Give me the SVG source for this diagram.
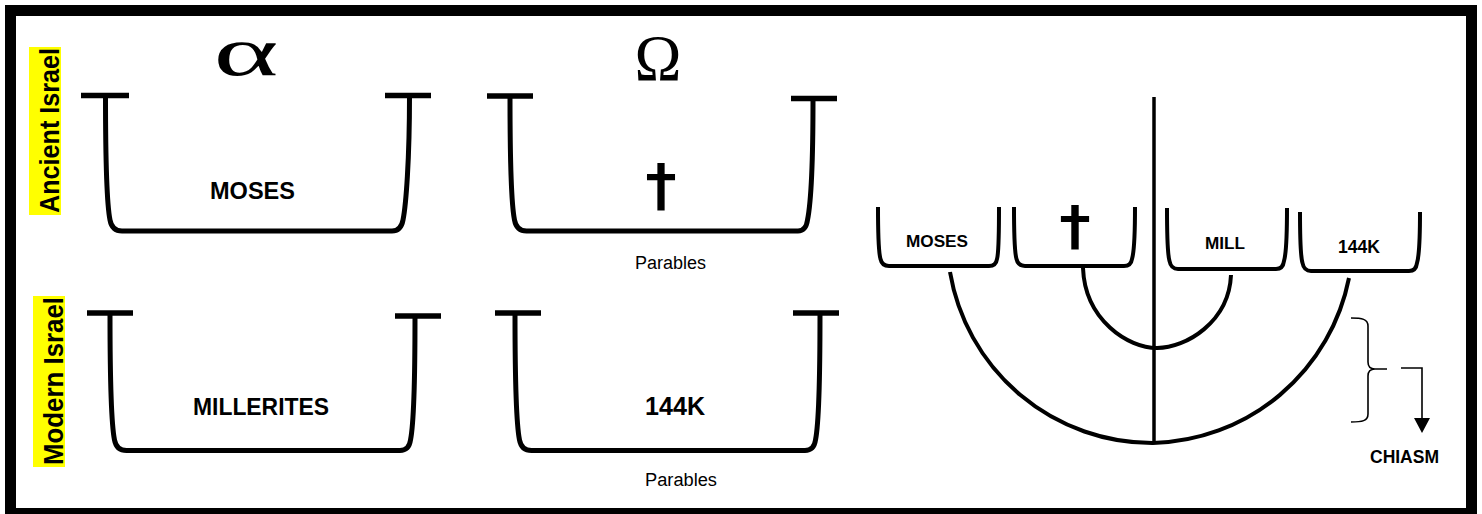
<svg xmlns="http://www.w3.org/2000/svg" width="1482" height="514" viewBox="0 0 1482 514">
  <style>
    .bowl { fill: none; stroke: #000; stroke-width: 5; stroke-linejoin: round; stroke-linecap: butt; }
    .lip { stroke: #000; stroke-width: 5.5; }
    .cup { fill: none; stroke: #000; stroke-width: 4; stroke-linejoin: round; }
    .arc { fill: none; stroke: #000; stroke-width: 4; }
    .thin { fill: none; stroke: #000; stroke-width: 1.6; }
    .lbl { font-family: "Liberation Sans", Arial, sans-serif; font-weight: bold; fill: #000; text-anchor: middle; }
    .cross { font-family: "DejaVu Sans", "Liberation Sans", sans-serif; fill: #000; stroke: #000; stroke-width: 2.2; text-anchor: middle; }
    .reg { font-family: "Liberation Sans", Arial, sans-serif; fill: #000; text-anchor: middle; }
    .greek { font-family: "Liberation Serif", "Times New Roman", serif; fill: #000; text-anchor: middle; }
    .side { font-family: "Liberation Sans", Arial, sans-serif; font-weight: bold; font-size: 28px; fill: #000; }
  </style>
  <defs>
    <marker id="head" viewBox="0 0 15 16" refX="0" refY="8" markerWidth="15" markerHeight="16" markerUnits="userSpaceOnUse" orient="auto">
      <path d="M0,0 L15,8 L0,16 Z" fill="#000"/>
    </marker>
  </defs>

  <rect width="1482" height="514" fill="#fff"/>

  <!-- outer frame -->
  <rect x="10.5" y="10.5" width="1461" height="503" fill="none" stroke="#000" stroke-width="11"/>

  <!-- row labels -->
  <g id="label-ancient">
    <rect x="29" y="47" width="32" height="168" fill="#ffff00"/>
    <text class="side" transform="translate(59,213) rotate(-90)" textLength="165" lengthAdjust="spacingAndGlyphs">Ancient Israel</text>
  </g>
  <g id="label-modern">
    <rect x="33" y="296" width="32" height="171" fill="#ffff00"/>
    <text class="side" transform="translate(63,465) rotate(-90)" textLength="168" lengthAdjust="spacingAndGlyphs">Modern Israel</text>
  </g>

  <!-- alpha / omega headings -->
  <g id="alpha">
    <text class="greek" x="246" y="75" font-size="70" textLength="65" lengthAdjust="spacingAndGlyphs">α</text>
  </g>
  <g id="omega">
    <text class="greek" x="658" y="80" font-size="66" textLength="47" lengthAdjust="spacingAndGlyphs">Ω</text>
  </g>

  <!-- large vessels -->
  <g id="vessel-moses">
    <line class="lip" x1="81" y1="95.5" x2="129" y2="95.5"/>
    <line class="lip" x1="385" y1="95.5" x2="431" y2="95.5"/>
    <path class="bowl" d="M105.5,96 C105.5,160 107,205 110,220 Q112,231 122,231 L392,231 Q401,231 403,220 C406,205 409.5,160 409.5,96"/>
    <text class="lbl" x="252.5" y="199" font-size="23.5" textLength="85" lengthAdjust="spacingAndGlyphs">MOSES</text>
  </g>

  <g id="vessel-cross">
    <line class="lip" x1="487" y1="96" x2="533" y2="96"/>
    <line class="lip" x1="791" y1="98.5" x2="837" y2="98.5"/>
    <path class="bowl" d="M510,97 C510,160 511.5,205 514.5,220 Q516.5,231 526.5,231 L798,231 Q806,231 807.5,220 C810.5,205 813,160 813,99"/>
    <text class="cross" x="661" y="204" font-size="56" textLength="29" lengthAdjust="spacingAndGlyphs">†</text>
    <text class="reg" x="670.5" y="269" font-size="18" textLength="71" lengthAdjust="spacingAndGlyphs">Parables</text>
  </g>

  <g id="vessel-millerites">
    <line class="lip" x1="87" y1="313" x2="133" y2="313"/>
    <line class="lip" x1="395" y1="316" x2="441" y2="316"/>
    <path class="bowl" d="M110,314 C110,380 111.5,425 114.5,440 Q116.5,450.5 126.5,450.5 L400,450.5 Q409,450.5 410.5,440 C413.5,425 415,380 415,317"/>
    <text class="lbl" x="261" y="415" font-size="24" textLength="136" lengthAdjust="spacingAndGlyphs">MILLERITES</text>
  </g>

  <g id="vessel-144k">
    <line class="lip" x1="495" y1="313" x2="541" y2="313"/>
    <line class="lip" x1="793" y1="313" x2="839" y2="313"/>
    <path class="bowl" d="M515,314 C515,380 516.5,425 519.5,440 Q521.5,450.5 531.5,450.5 L805,450.5 Q814,450.5 815.5,440 C818.5,425 820,380 820,314"/>
    <text class="lbl" x="675" y="415" font-size="25" textLength="60" lengthAdjust="spacingAndGlyphs">144K</text>
    <text class="reg" x="681" y="486" font-size="18" textLength="72" lengthAdjust="spacingAndGlyphs">Parables</text>
  </g>

  <!-- small cups of the chiasm -->
  <g id="cup-moses">
    <path class="cup" d="M878,207 C878,240 879,254 880.5,259 Q882,266 889,266 L989,266 Q996,266 997,259 C998.5,254 999,240 999,207"/>
    <text class="lbl" x="937" y="247" font-size="17.2" textLength="62" lengthAdjust="spacingAndGlyphs">MOSES</text>
  </g>
  <g id="cup-cross">
    <path class="cup" d="M1014,207 C1014,240 1015,254 1016.5,259 Q1018,266 1025,266 L1124,266 Q1131,266 1132,259 C1133.5,254 1135,240 1135,207"/>
    <text class="cross" x="1075" y="244" font-size="52" textLength="29" lengthAdjust="spacingAndGlyphs">†</text>
  </g>
  <g id="cup-mill">
    <path class="cup" d="M1167,208 C1167,241 1168,256 1169.5,261 Q1171,269 1178,269 L1276,269 Q1283,269 1284,261 C1285.5,256 1287,241 1287,208"/>
    <text class="lbl" x="1225" y="249" font-size="17" textLength="40" lengthAdjust="spacingAndGlyphs">MILL</text>
  </g>
  <g id="cup-144k">
    <path class="cup" d="M1300,212 C1300,244 1301,258 1302.5,263 Q1304,271 1311,271 L1409,271 Q1416,271 1417,263 C1418.5,258 1420,244 1420,212"/>
    <text class="lbl" x="1359" y="253" font-size="17.5" textLength="42" lengthAdjust="spacingAndGlyphs">144K</text>
  </g>

  <!-- connectors: axis, arcs, brace and arrow -->
  <g id="connectors">
    <line x1="1154" y1="97" x2="1154" y2="443" stroke="#000" stroke-width="3.5"/>
    <path class="arc" d="M950,272 A205,205 0 0 0 1153,443 A205,205 0 0 0 1349,278"/>
    <path class="arc" d="M1083,268 C1085,320 1128,348 1157,348 C1186,348 1229,322 1231,275"/>
    <path class="thin" d="M1351,318 C1362,318 1368,319 1368,326 L1368,362 C1368,367 1370,369 1375,369 L1387,369 M1375,369 C1370,369 1368,371 1368,376 L1368,414 C1368,421 1362,422 1351,422"/>
    <path class="thin" d="M1401,368 L1422,368 L1422,418" marker-end="url(#head)"/>
  </g>

  <g id="chiasm-label">
    <text class="lbl" x="1404.5" y="463" font-size="17.5" textLength="69" lengthAdjust="spacingAndGlyphs">CHIASM</text>
  </g>
</svg>
